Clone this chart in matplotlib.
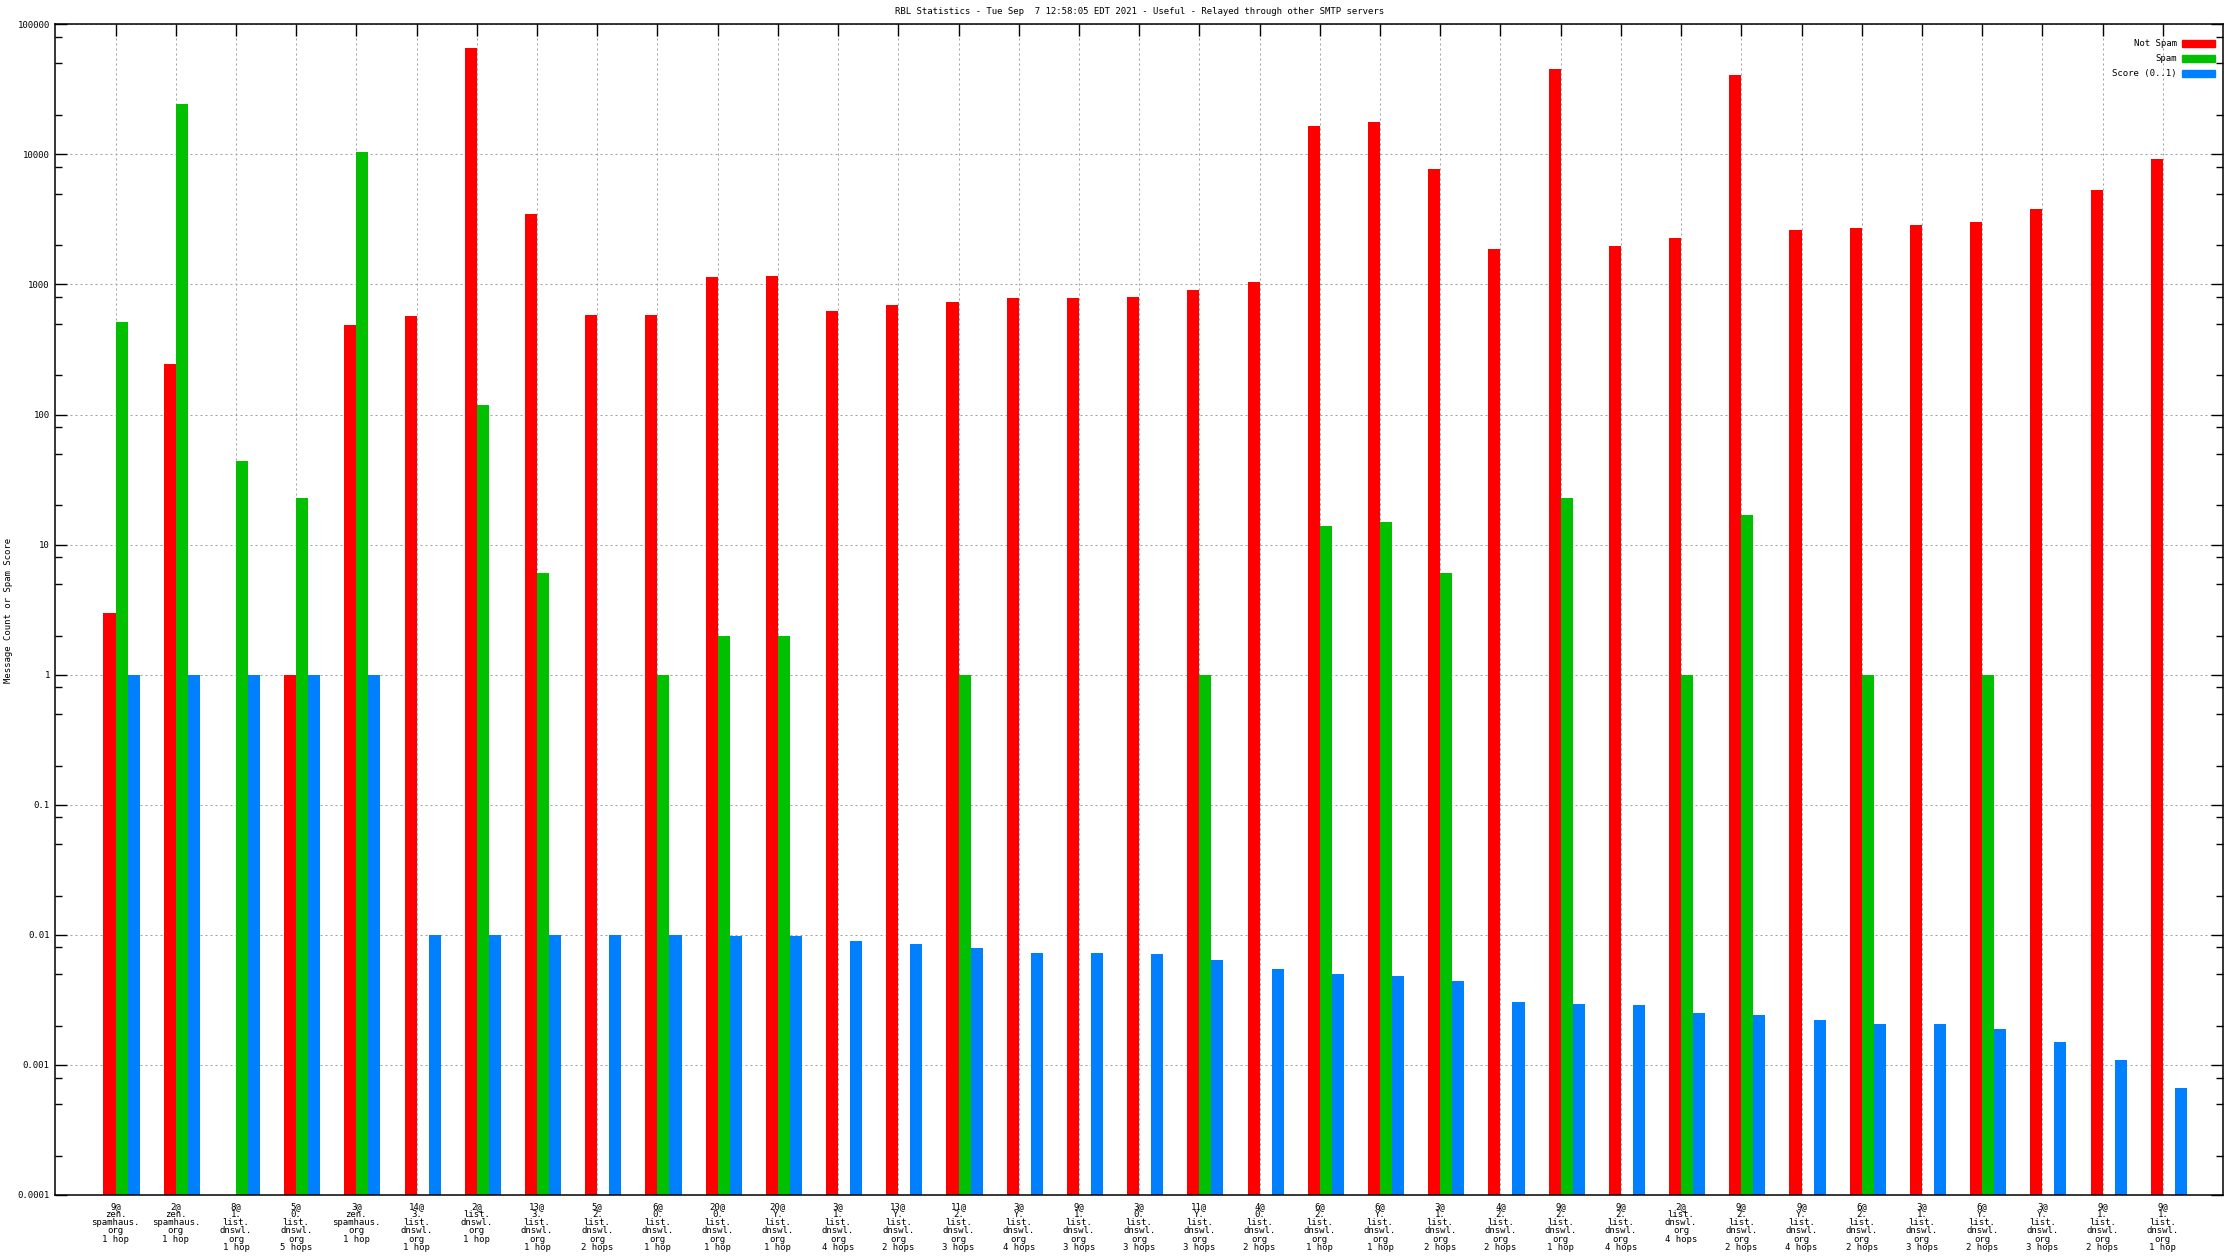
import numpy as np
import matplotlib
matplotlib.use("Agg")
import matplotlib.pyplot as plt
from matplotlib.ticker import LogLocator, FixedLocator, NullFormatter
from matplotlib.patches import Rectangle

plt.rcParams['font.family'] = ['DejaVu Sans Mono', 'DejaVu Sans']

title = "RBL Statistics - Tue Sep  7 12:58:05 EDT 2021 - Useful - Relayed through other SMTP servers"

labels = [
    "9@\nzen.\nspamhaus.\norg\n1 hop",
    "2@\nzen.\nspamhaus.\norg\n1 hop",
    "8@\n1.\nlist.\ndnswl.\norg\n1 hop",
    "5@\n0.\nlist.\ndnswl.\norg\n5 hops",
    "3@\nzen.\nspamhaus.\norg\n1 hop",
    "14@\n3.\nlist.\ndnswl.\norg\n1 hop",
    "2@\nlist.\ndnswl.\norg\n1 hop",
    "13@\n3.\nlist.\ndnswl.\norg\n1 hop",
    "5@\n2.\nlist.\ndnswl.\norg\n2 hops",
    "6@\n0.\nlist.\ndnswl.\norg\n1 hop",
    "20@\n0.\nlist.\ndnswl.\norg\n1 hop",
    "20@\nY.\nlist.\ndnswl.\norg\n1 hop",
    "3@\n1.\nlist.\ndnswl.\norg\n4 hops",
    "13@\nY.\nlist.\ndnswl.\norg\n2 hops",
    "11@\n2.\nlist.\ndnswl.\norg\n3 hops",
    "3@\nY.\nlist.\ndnswl.\norg\n4 hops",
    "9@\n1.\nlist.\ndnswl.\norg\n3 hops",
    "3@\n0.\nlist.\ndnswl.\norg\n3 hops",
    "11@\nY.\nlist.\ndnswl.\norg\n3 hops",
    "4@\n0.\nlist.\ndnswl.\norg\n2 hops",
    "6@\n2.\nlist.\ndnswl.\norg\n1 hop",
    "6@\nY.\nlist.\ndnswl.\norg\n1 hop",
    "3@\n1.\nlist.\ndnswl.\norg\n2 hops",
    "4@\n2.\nlist.\ndnswl.\norg\n2 hops",
    "9@\n2.\nlist.\ndnswl.\norg\n1 hop",
    "9@\n2.\nlist.\ndnswl.\norg\n4 hops",
    "2@\nlist.\ndnswl.\norg\n4 hops",
    "9@\n2.\nlist.\ndnswl.\norg\n2 hops",
    "9@\nY.\nlist.\ndnswl.\norg\n4 hops",
    "6@\n2.\nlist.\ndnswl.\norg\n2 hops",
    "3@\n1.\nlist.\ndnswl.\norg\n3 hops",
    "6@\nY.\nlist.\ndnswl.\norg\n2 hops",
    "3@\nY.\nlist.\ndnswl.\norg\n3 hops",
    "9@\n1.\nlist.\ndnswl.\norg\n2 hops",
    "9@\n1.\nlist.\ndnswl.\norg\n1 hop",
]

not_spam = [3, 245, 0, 1, 490, 570, 66000, 3500, 580, 580, 1150, 1170, 630, 690,
            730, 790, 790, 800, 900, 1040, 16400, 17700, 7700, 1860, 45000, 1960,
            2280, 40700, 2600, 2730, 2880, 3030, 3800, 5300, 9200]
spam = [510, 24500, 44, 23, 10400, 0, 118, 6, 0, 1, 2, 2, 0, 0, 1, 0, 0, 0, 1, 0,
        14, 15, 6, 0, 23, 0, 1, 17, 0, 1, 0, 1, 0, 0, 0]
score = [1, 1, 1, 1, 1, 0.01, 0.01, 0.01, 0.01, 0.01, 0.0098, 0.0098, 0.0089,
         0.0085, 0.0079, 0.0073, 0.0073, 0.0071, 0.0064, 0.0055, 0.0050, 0.00484,
         0.0044, 0.00305, 0.00295, 0.0029, 0.0025, 0.00243, 0.00222, 0.00207,
         0.00205, 0.0019, 0.0015, 0.0011, 0.00066]

series = [("Not Spam", not_spam, "#ff0000"),
          ("Spam", spam, "#00c000"),
          ("Score (0..1)", score, "#0080ff")]

W, H = 2240, 1260
fig = plt.figure(figsize=(W / 100, H / 100), dpi=100)
ax = fig.add_axes([55.3 / W, 1 - 1195 / H, (2223 - 55.3) / W, (1195 - 24.3) / H])

ymin = 0.0001
x = np.arange(len(labels))
w = 0.2
for j, (name, vals, col) in enumerate(series):
    v = np.array(vals, dtype=float)
    m = v > 0
    ax.bar(x[m] + (j - 1) * w, v[m] - ymin, width=w, bottom=ymin, align='edge',
           color=col, linewidth=0, zorder=2)

ax.set_yscale('log')
ax.set_ylim(ymin, 100000)
ax.set_xlim(-1, len(labels))

ax.yaxis.set_major_locator(FixedLocator([10.0 ** k for k in range(-4, 6)]))
ax.set_yticklabels(["0.0001", "0.001", "0.01", "0.1", "1", "10", "100",
                    "1000", "10000", "100000"])
ax.yaxis.set_minor_locator(LogLocator(base=10, subs=(2, 5, 8), numticks=20))
ax.yaxis.set_minor_formatter(NullFormatter())

ax.set_xticks(x)
ax.set_xticklabels(labels)
for t in ax.get_xticklabels():
    t.set_linespacing(0.88)

ax.tick_params(axis='both', which='major', direction='in', length=8.6, width=1.0,
               top=True, right=True, labelsize=6.5, pad=4, colors='black')
ax.tick_params(axis='y', which='minor', direction='in', length=5, width=1.0,
               right=True)
ax.tick_params(axis='x', which='major', pad=5, bottom=False, labelbottom=True)

ax.grid(True, which='major', color='#a0a0a0', linestyle=(0, (2, 3)), linewidth=0.72)
ax.set_axisbelow(True)
for s in ax.spines.values():
    s.set_linewidth(1.1)
    s.set_zorder(5)

fig.text(4 / W, 1 - 610 / H, "Message Count or Spam Score", rotation=90,
         ha='left', va='center', fontsize=6.5)
fig.text(0.5 * (55.3 + 2223) / W, 1 - 11.5 / H, title, ha='center', va='center',
         fontsize=6.5)

# legend, top right inside the plot
for j, (name, vals, col) in enumerate(series):
    yc = 43.3 + 15 * j
    fig.text(2177 / W, 1 - yc / H, name, ha='right', va='center', fontsize=6.5)
    fig.patches.append(Rectangle((2182 / W, 1 - (yc + 3.5) / H), 33 / W, 7 / H,
                                 transform=fig.transFigure, color=col, zorder=6))

fig.savefig("out.png", dpi=100)
